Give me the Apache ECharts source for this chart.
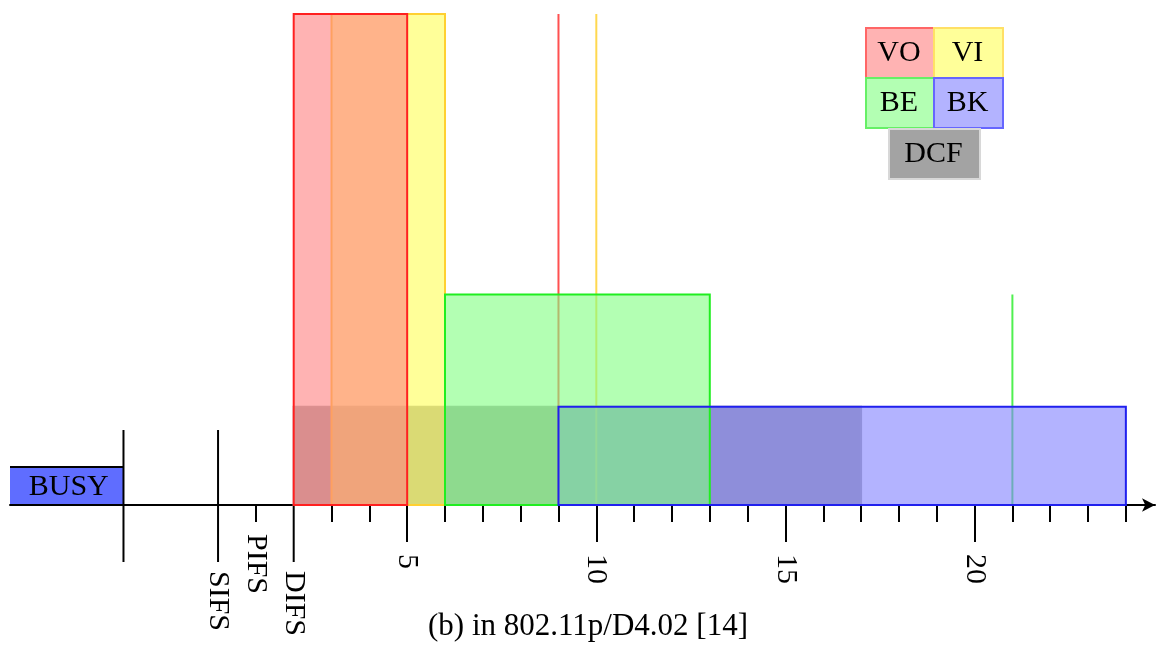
<!DOCTYPE html>
<html>
<head>
<meta charset="utf-8">
<script src="https://cdn.jsdelivr.net/npm/echarts@6/dist/echarts.min.js"></script>
<style>
html,body{margin:0;padding:0;background:#fff;}
#chart{width:1162px;height:645px;}
</style>
</head>
<body>
<div id="chart"></div>
<script>
// ---- data ----
const names   = ['VO', 'VI', 'BE', 'BK', 'DCF'];
const starts  = [2, 3, 6, 9, 2];
const ends    = [5, 6, 13, 24, 17];
const heights = [0.3333, 0.3333, 0.1429, 0.0667, 0.0667];

const markerOf  = ['VO', 'VI', 'BE'];
const markerX   = [9, 10, 21];
const markerTop = [0.3333, 0.3333, 0.1429];

const busyLabel  = 'BUSY';
const busyRange  = [-5.5, -2.5];
const busyHeight = 0.0258;

const guideX      = [-2.5, 0, 2];
const guideTop    = [0.0509, 0.0509, 0];
const guideBottom = [-0.0387, -0.0387, -0.0387];

const minorTicks = [3, 4, 6, 7, 8, 9, 11, 12, 13, 14, 16, 17, 18, 19, 21, 22, 23, 24];
const majorTicks = [5, 10, 15, 20];
const slotTicks  = [0, 2];
const slotLabels = ['SIFS', 'DIFS'];
const pifsTick   = [1];
const pifsLabel  = ['PIFS'];

const caption = '(b) in 802.11p/D4.02 [14]';

// ---- styles ----
const FONT = 'Liberation Serif';
const fills = {
  VO: 'rgba(255,128,128,0.6)', VI: 'rgba(255,255,85,0.6)', BE: 'rgba(128,255,128,0.6)',
  BK: 'rgba(128,128,255,0.6)', DCF: 'rgba(102,102,102,0.6)'
};
const strokes = { VO: '#ff2020', VI: '#ffd030', BE: '#20ee20', BK: '#2020ee', DCF: '#a8a8a8' };
const legendStrokes = { VO: '#ff6666', VI: '#ffe066', BE: '#66f066', BK: '#6666ff', DCF: '#d8d8d8' };
const markerColors = { VO: '#ff5050', VI: '#ffd850', BE: '#50f050' };

function rowsFor(list) {
  return list.map(n => {
    const i = names.indexOf(n);
    return [starts[i], ends[i], heights[i], i];
  });
}

function rectRender(withFill, withStroke) {
  return function (params, api) {
    const n = names[api.value(3)];
    const p0 = api.coord([api.value(0), api.value(2)]);
    const p1 = api.coord([api.value(1), 0]);
    return {
      type: 'rect', z2: params.dataIndex,
      shape: { x: p0[0], y: p0[1], width: p1[0] - p0[0], height: p1[1] - p0[1] },
      style: { fill: withFill ? fills[n] : 'none', stroke: withStroke ? strokes[n] : 'none', lineWidth: 2 }
    };
  };
}

const xBase = { type: 'value', min: -5.5, max: 24.77, position: 'bottom', gridIndex: 0, splitLine: { show: false } };
const labelFont = { color: '#000', fontFamily: FONT, fontSize: 30 };

const option = {
  animation: false,
  backgroundColor: '#fff',
  grid: { left: 10, right: 7, top: 14, bottom: 140 },
  yAxis: { type: 'value', min: 0, max: 0.3333, show: false },
  xAxis: [
    Object.assign({}, xBase, {
      axisLine: { show: true, lineStyle: { color: '#000', width: 2 }, symbol: ['none', 'arrow'], symbolSize: [10, 13] },
      axisTick: { show: true, customValues: minorTicks.concat(pifsTick), length: 17, lineStyle: { color: '#000', width: 2 } },
      axisLabel: { show: false }
    }),
    Object.assign({}, xBase, {
      axisLine: { show: false },
      axisTick: { show: true, customValues: majorTicks, length: 37, lineStyle: { color: '#000', width: 2 } },
      axisLabel: Object.assign({ show: true, customValues: majorTicks, rotate: -90, margin: 49 }, labelFont)
    }),
    Object.assign({}, xBase, {
      axisLine: { show: false },
      axisTick: { show: false },
      axisLabel: Object.assign({ show: true, customValues: slotTicks, rotate: -90, margin: 66,
        formatter: v => slotLabels[slotTicks.indexOf(v)] }, labelFont)
    }),
    Object.assign({}, xBase, {
      axisLine: { show: false },
      axisTick: { show: false },
      axisLabel: Object.assign({ show: true, customValues: pifsTick, rotate: -90, margin: 29,
        formatter: v => pifsLabel[pifsTick.indexOf(v)] }, labelFont)
    })
  ],
  series: [
    { // busy period
      type: 'custom', xAxisIndex: 0, z: 2,
      data: [[busyRange[0], busyRange[1], busyHeight]],
      renderItem: function (params, api) {
        const p0 = api.coord([api.value(0), api.value(2)]);
        const p1 = api.coord([api.value(1), 0]);
        return {
          type: 'group', children: [
            { type: 'rect', shape: { x: p0[0], y: p0[1], width: p1[0] - p0[0], height: p1[1] - p0[1] },
              style: { fill: '#5f6dff', stroke: 'none' } },
            { type: 'line', shape: { x1: p0[0], y1: p0[1], x2: p1[0], y2: p0[1] }, style: { stroke: '#000', lineWidth: 2 } },
            { type: 'line', shape: { x1: p0[0], y1: p1[1], x2: p1[0], y2: p1[1] }, style: { stroke: '#000', lineWidth: 2 } },
            { type: 'text', x: (p0[0] + p1[0]) / 2 + 2, y: (p0[1] + p1[1]) / 2 + 1,
              style: { text: busyLabel, fill: '#000', font: '30px "' + FONT + '"', align: 'center', verticalAlign: 'middle' } }
          ]
        };
      }
    },
    { // guide lines
      type: 'custom', xAxisIndex: 0, z: 2,
      data: guideX.map((x, i) => [x, guideTop[i], guideBottom[i]]),
      renderItem: function (params, api) {
        const a = api.coord([api.value(0), api.value(1)]);
        const b = api.coord([api.value(0), api.value(2)]);
        return { type: 'line', shape: { x1: a[0], y1: a[1], x2: b[0], y2: b[1] }, style: { stroke: '#000', lineWidth: 2 } };
      }
    },
    { // back boxes
      type: 'custom', xAxisIndex: 0, z: 3,
      data: rowsFor(['DCF', 'VI', 'VO']),
      renderItem: rectRender(true, true)
    },
    { // marker lines
      type: 'custom', xAxisIndex: 0, z: 4,
      data: markerX.map((x, i) => [x, markerTop[i], names.indexOf(markerOf[i])]),
      renderItem: function (params, api) {
        const a = api.coord([api.value(0), api.value(1)]);
        const b = api.coord([api.value(0), 0]);
        return { type: 'line', shape: { x1: a[0], y1: a[1], x2: b[0], y2: b[1] },
          style: { stroke: markerColors[names[api.value(2)]], lineWidth: 2 } };
      }
    },
    { // front boxes
      type: 'custom', xAxisIndex: 0, z: 5,
      data: rowsFor(['BK', 'BE']),
      renderItem: function (params, api) {
        const n = names[api.value(3)];
        return rectRender(true, n !== 'BK')(params, api);
      }
    },
    { // BK outline on top
      type: 'custom', xAxisIndex: 0, z: 6,
      data: rowsFor(['BK']),
      renderItem: rectRender(false, true)
    }
  ],
  graphic: (function () {
    const cells = { VO: [865, 27, 68, 50], VI: [933, 27, 69, 50], BE: [865, 77, 68, 50], BK: [933, 77, 69, 50], DCF: [888, 128, 91, 50] };
    const els = [];
    names.forEach(n => {
      const c = cells[n];
      els.push({ type: 'rect', left: c[0], top: c[1], shape: { width: c[2], height: c[3] },
        style: { fill: fills[n], stroke: legendStrokes[n], lineWidth: 2 } });
      els.push({ type: 'text', x: c[0] + c[2] / 2, y: c[1] + c[3] / 2 + 1,
        style: { text: n, fill: '#000', font: '30px "' + FONT + '"', align: 'center', verticalAlign: 'middle' } });
    });
    els.push({ type: 'text', x: 588, y: 627,
      style: { text: caption, fill: '#000', font: '31px "' + FONT + '"', align: 'center', verticalAlign: 'middle' } });
    return els;
  })()
};

const chart = echarts.init(document.getElementById('chart'), null, { renderer: 'canvas' });
chart.setOption(option);
</script>
</body>
</html>
